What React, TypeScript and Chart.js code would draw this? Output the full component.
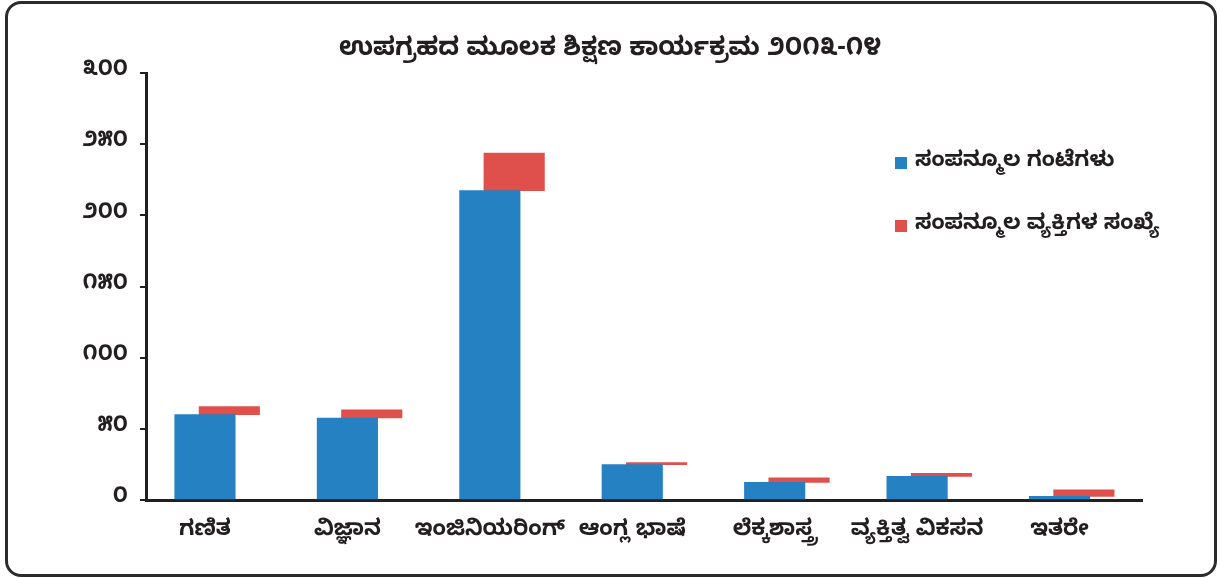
import React, { useEffect, useRef } from "react";
import { Chart, registerables } from "chart.js";

Chart.register(...registerables);

const title = "ಉಪಗ್ರಹದ ಮೂಲಕ ಶಿಕ್ಷಣ ಕಾರ್ಯಕ್ರಮ ೨೦೧೩-೧೪";
const categories = ["ಗಣಿತ", "ವಿಜ್ಞಾನ", "ಇಂಜಿನಿಯರಿಂಗ್", "ಆಂಗ್ಲ ಭಾಷೆ", "ಲೆಕ್ಕಶಾಸ್ತ್ರ", "ವ್ಯಕ್ತಿತ್ವ ವಿಕಸನ", "ಇತರೇ"];
const seriesNames = ["ಸಂಪನ್ಮೂಲ ಗಂಟೆಗಳು", "ಸಂಪನ್ಮೂಲ ವ್ಯಕ್ತಿಗಳ ಸಂಖ್ಯೆ"];
const hours = [60, 57.6, 217.4, 24.8, 12.4, 16.6, 2.5];
const persons = [5.6, 5.8, 26.3, 1.5, 3.1, 2.1, 4.7];
const yTickValues = [0, 50, 100, 150, 200, 250, 300];
const yTickLabels = ["೦", "೫೦", "೧೦೦", "೧೫೦", "೨೦೦", "೨೫೦", "೩೦೦"];

const BLUE = "#2581c1";
const RED = "#df504d";
const INK = "#231f20";
const FONT = "'Noto Sans Kannada', 'Lohit Kannada', 'Noto Sans', sans-serif";

// x-axis window (in category units) and red-series shift
const X_MIN = -0.414;
const X_MAX = 6.579;
const RED_SHIFT = 0.171;

export default function App() {
  const canvasRef = useRef<HTMLCanvasElement | null>(null);

  useEffect(() => {
    if (!canvasRef.current) return;
    const chart = new Chart(canvasRef.current, {
      type: "bar",
      data: {
        datasets: [
          {
            label: seriesNames[0],
            data: hours.map((v, i) => ({ x: i, y: v })) as any,
            backgroundColor: BLUE,
            xAxisID: "x",
            yAxisID: "y",
            barThickness: 60.5,
            grouped: false,
          },
          {
            label: seriesNames[1],
            data: persons.map((v, i) => ({ x: i, y: [hours[i], hours[i] + v] })) as any,
            backgroundColor: RED,
            xAxisID: "x2",
            yAxisID: "y",
            barThickness: 60.5,
            grouped: false,
          },
        ],
      },
      options: {
        animation: false,
        responsive: true,
        maintainAspectRatio: false,
        layout: { padding: 0 },
        plugins: {
          legend: { display: false },
          tooltip: { enabled: false },
          title: {
            display: true,
            text: title,
            color: INK,
            font: { family: FONT, size: 25.5, weight: "bold", lineHeight: 1.2 },
            padding: { top: 37, bottom: 5.4 },
          },
        },
        scales: {
          x: {
            type: "linear",
            min: X_MIN,
            max: X_MAX,
            offset: false,
            grid: { display: false, drawTicks: false, offset: false },
            border: { display: true, color: INK, width: 3 },
            afterBuildTicks: (scale: any) => {
              scale.ticks = categories.map((_, i) => ({ value: i }));
            },
            afterFit: (scale: any) => {
              scale.height = 78;
            },
            ticks: {
              autoSkip: false,
              maxRotation: 0,
              padding: 20,
              color: INK,
              font: { family: FONT, size: 22, weight: "bold" },
              callback: (v: any) => categories[Math.round(Number(v))] ?? "",
            },
          },
          x2: {
            type: "linear",
            display: false,
            offset: false,
            grid: { offset: false },
            min: X_MIN - RED_SHIFT,
            max: X_MAX - RED_SHIFT,
          },
          y: {
            type: "linear",
            min: 0,
            max: 300,
            afterBuildTicks: (scale: any) => {
              scale.ticks = yTickValues.map((v) => ({ value: v }));
            },
            afterFit: (scale: any) => {
              scale.width = 146;
            },
            grid: {
              display: true,
              drawOnChartArea: false,
              drawTicks: true,
              tickLength: 6,
              color: INK,
              lineWidth: 2,
            },
            border: { display: true, color: INK, width: 3 },
            ticks: {
              padding: 12,
              color: INK,
              font: { family: FONT, size: 22, weight: "bold" },
              callback: (v: any) => yTickLabels[yTickValues.indexOf(Number(v))] ?? "",
            },
          },
          yRight: {
            type: "linear",
            position: "right",
            display: true,
            grid: { display: false, drawTicks: false },
            border: { display: false },
            ticks: { display: false },
            afterFit: (scale: any) => {
              scale.width = 78;
            },
          },
        },
      },
    });
    return () => chart.destroy();
  }, []);

  return (
    <div style={{ position: "absolute", left: 0, top: 0, width: 1220, height: 578, background: "#fff" }}>
      <div
        style={{
          position: "absolute",
          left: 5,
          top: 1,
          width: 1212,
          height: 576,
          boxSizing: "border-box",
          border: "3px solid #2b2b2b",
          borderRadius: 16,
        }}
      />
      <div style={{ position: "absolute", left: 0, top: 0, width: 1220, height: 578 }}>
        <canvas ref={canvasRef} />
      </div>
      {seriesNames.map((name, i) => (
        <div
          key={name}
          style={{
            position: "absolute",
            left: 895,
            top: i === 0 ? 147 : 210,
            height: 32,
            display: "flex",
            alignItems: "center",
            fontFamily: FONT,
            fontWeight: "bold",
            fontSize: 21.5,
            color: INK,
            whiteSpace: "nowrap",
          }}
        >
          <span style={{ display: "inline-block", width: 12, height: 12, background: i === 0 ? BLUE : RED, marginRight: 8 }} />
          <span>{name}</span>
        </div>
      ))}
    </div>
  );
}
